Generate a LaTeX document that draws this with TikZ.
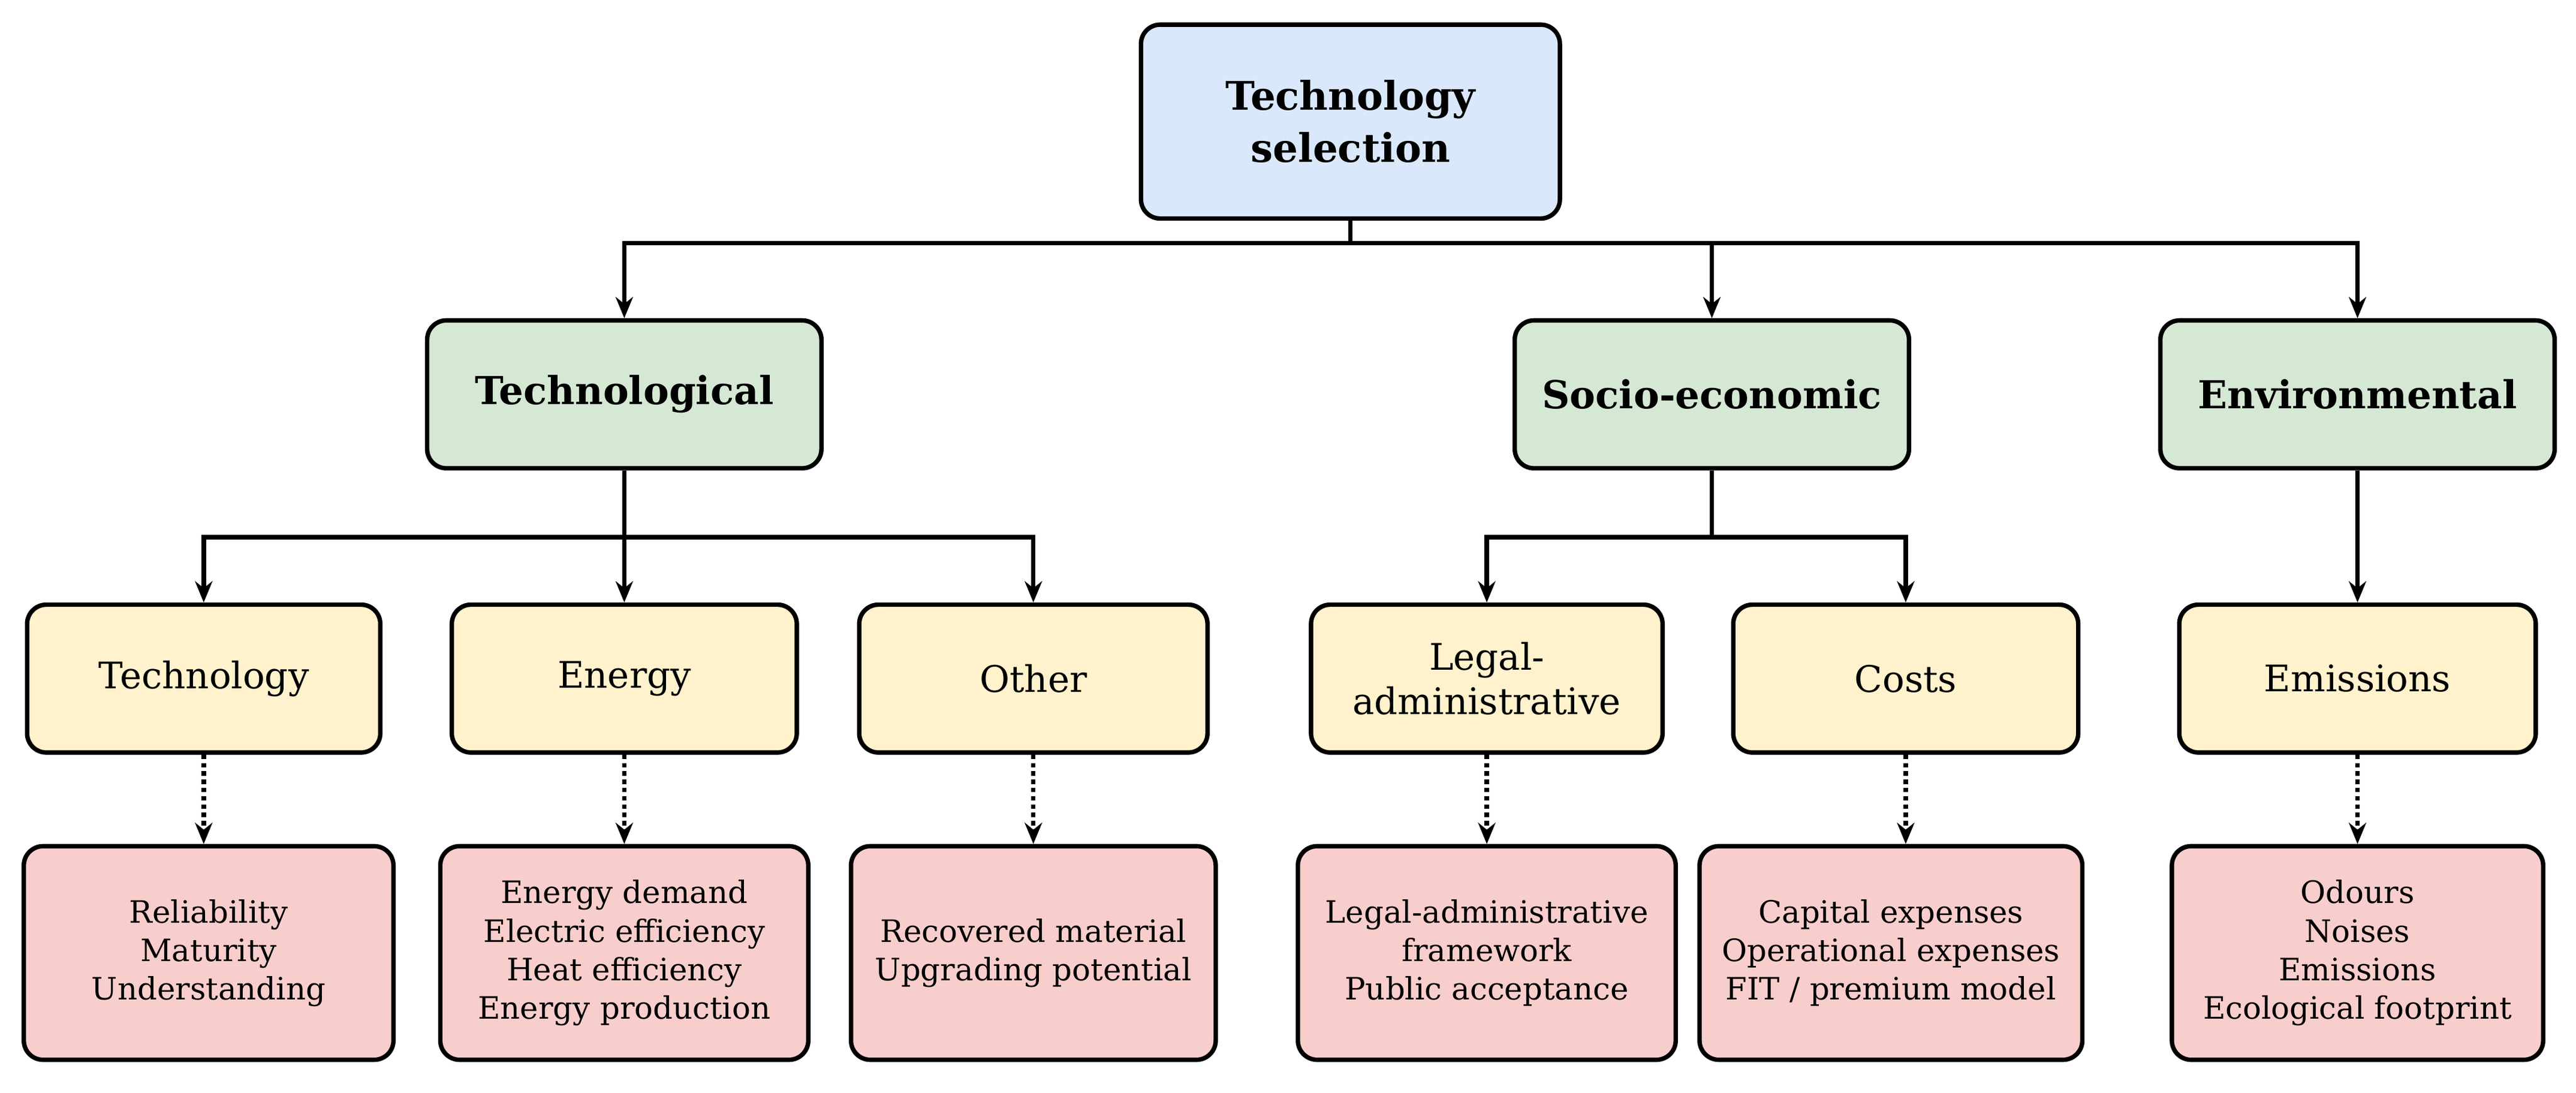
\documentclass[tikz,border=0pt]{standalone}
\usepackage{fontspec}
\setmainfont{DejaVu Serif}
\usetikzlibrary{arrows.meta}
\begin{document}
\begin{tikzpicture}[x=0.03cm,y=-0.03cm,
 box/.style={draw=black,line width=2.3pt,rounded corners=10pt,align=center,inner sep=0pt},
 l1/.style={box,fill={rgb,255:red,218;green,232;blue,252},minimum width=255*0.03cm,minimum height=118*0.03cm,font=\fontsize{20.5}{27}\selectfont\bfseries},
 l2/.style={box,fill={rgb,255:red,213;green,232;blue,212},minimum width=240*0.03cm,minimum height=90*0.03cm,font=\fontsize{20}{24}\selectfont\bfseries},
 l3/.style={box,fill={rgb,255:red,255;green,242;blue,204},minimum width=215*0.03cm,minimum height=90*0.03cm,font=\fontsize{19}{23}\selectfont},
 l4/.style={box,fill={rgb,255:red,248;green,206;blue,204},minimum width=225*0.03cm,minimum height=130*0.03cm,font=\fontsize{16}{20}\selectfont},
 arr/.style={line width=2.3pt,-{Stealth[length=11pt,width=9pt]}},
 ln/.style={line width=2.3pt},
 dot/.style={line width=2.3pt,dotted,-{Stealth[length=11pt,width=9pt]}}]
\useasboundingbox (0,0) rectangle (1568,665);
\node[l1] (top) at (822,74) {Technology\\selection};
\node[l2] (tech) at (380,240) {Technological};
\node[l2] (soc) at (1042,240) {Socio-economic};
\node[l2] (env) at (1435,240) {Environmental};
\node[l3] (a) at (124,413) {Technology};
\node[l3,minimum width=210*0.03cm] (b) at (380,413) {Energy};
\node[l3,minimum width=212*0.03cm] (c) at (629,413) {Other};
\node[l3,minimum width=214*0.03cm] (d) at (905,413) {Legal-\\administrative};
\node[l3,minimum width=210*0.03cm] (e) at (1160,413) {Costs};
\node[l3,minimum width=217*0.03cm] (f) at (1435,413) {Emissions};
\node[l4] (a4) at (127,580) {Reliability\\Maturity\\Understanding};
\node[l4,minimum width=224*0.03cm] (b4) at (380,580) {Energy demand\\Electric efficiency\\Heat efficiency\\Energy production};
\node[l4,minimum width=222*0.03cm] (c4) at (629,580) {Recovered material\\Upgrading potential};
\node[l4,minimum width=230*0.03cm] (d4) at (905,580) {Legal-administrative\\framework\\Public acceptance};
\node[l4,minimum width=233*0.03cm] (e4) at (1151,580) {Capital expenses\\Operational expenses\\FIT / premium model};
\node[l4,minimum width=226*0.03cm] (f4) at (1435,580) {Odours\\Noises\\Emissions\\Ecological footprint};
\coordinate (j1) at (822,148);
\draw[ln] (top.south) -- (j1);
\draw[arr] (j1) -| (tech.north);
\draw[arr] (j1) -| (env.north);
\draw[arr] (j1 -| soc.north) -- (soc.north);
\coordinate (j2) at (380,327);
\draw[ln] (tech.south) -- (j2);
\draw[arr] (j2) -| (a.north);
\draw[arr] (j2) -| (c.north);
\draw[arr] (j2) -- (b.north);
\coordinate (j3) at (1042,327);
\draw[ln] (soc.south) -- (j3);
\draw[arr] (j3) -| (d.north);
\draw[arr] (j3) -| (e.north);
\draw[arr] (env.south) -- (f.north);
\draw[dot] (a.south) -- (a.south |- a4.north);
\draw[dot] (b.south) -- (b4.north);
\draw[dot] (c.south) -- (c4.north);
\draw[dot] (d.south) -- (d4.north);
\draw[dot] (e.south) -- (e.south |- e4.north);
\draw[dot] (f.south) -- (f4.north);
\end{tikzpicture}
\end{document}
